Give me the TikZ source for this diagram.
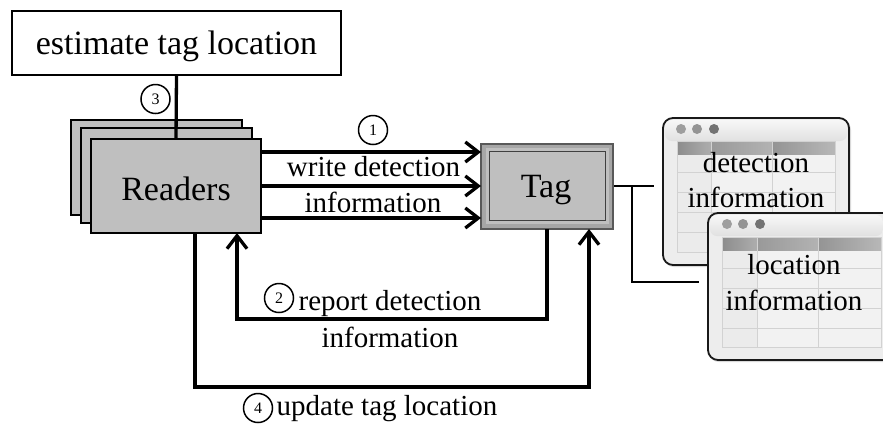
\documentclass[tikz,border=0pt]{standalone}
\usepackage{fontspec}
\setmainfont{Liberation Serif}
\usetikzlibrary{arrows.meta}
\definecolor{boxgray}{HTML}{BFBFBF}
\definecolor{winfill}{HTML}{EDEDED}
\definecolor{cellline}{HTML}{D2D2D2}
\newcommand{\fs}[1]{\fontsize{#1}{#1}\selectfont}
\tikzset{
  x=1pt,y=-1pt,
  graybox/.style={draw=black,line width=1.8pt,fill=boxgray,inner sep=0pt,outer sep=0pt},
  flow/.style={line width=3.3pt,draw=black},
  flowarrow/.style={flow,-{Straight Barb[length=13pt,width=20pt,line width=3.3pt]}},
  thin link/.style={line width=1.4pt,draw=black},
  num/.style={circle,draw=black,line width=1.5pt,fill=white,minimum size=29pt,inner sep=0pt,font=\fs{16}},
  lab/.style={font=\fs{29},inner sep=0pt,align=center},
  big/.style={font=\fs{34},inner sep=0pt},
  window/.style={draw=black!90,line width=1.8pt,rounded corners=10pt,fill=winfill},
  cell/.style={draw=cellline,line width=1pt},
  dot/.style={circle,minimum size=10pt,inner sep=0pt},
}
\begin{document}
\begin{tikzpicture}
\useasboundingbox (0,0) rectangle (883,424);
\fill[white] (0,0) rectangle (883,424);

% links from the tag to the two tables
\coordinate (tagout) at (613,186);
\coordinate (w1end) at (654,186);
\coordinate (branch) at (632,186);
\coordinate (bend) at (632,282);
\coordinate (w2end) at (699,282);
\draw[thin link] (tagout) -- (w1end);
\draw[thin link] (branch) -- (bend) -- (w2end);

% window 1
\draw[window,draw=none,fill=black!15] (664,120) rectangle (851,267);
\draw[window] (663,118) rectangle (849,265);
\shade[top color=black!3,bottom color=black!12,rounded corners=7pt] (665,120) rectangle (847,141);
\fill[black!5] (677,154) rectangle (835,252);
\fill[black!8] (677,154) rectangle (711,252);
\shade[left color=black!45,right color=black!32] (677,141) rectangle (711,154);
\shade[left color=black!40,right color=black!30] (711,141) rectangle (772,154);
\shade[left color=black!42,right color=black!28] (772,141) rectangle (835,154);
\draw[cell] (677,141) rectangle (835,252);
\draw[cell] (711,141) -- (711,252) (772,141) -- (772,252);
\draw[cell] (677,172) -- (835,172) (677,192) -- (835,192) (677,212) -- (835,212) (677,232) -- (835,232);
\node[dot,fill=black!38] (w1a) at (681,129) {};
\node[dot,fill=black!42] (w1b) at (697,129) {};
\node[dot,fill=black!55] (w1c) at (714,129) {};
\node[lab] (detect) at (756,163) {detection};
\node[lab] (detinfo) at (756,197.5) {information};

% window 2
\draw[window,draw=none,fill=black!15] (709,215) rectangle (900,362);
\draw[window] (708,213) rectangle (895,360);
\shade[top color=black!3,bottom color=black!12,rounded corners=7pt] (710,215) rectangle (883,236);
\fill[black!5] (722,250) rectangle (881,347);
\fill[black!8] (722,250) rectangle (757,347);
\shade[left color=black!45,right color=black!32] (722,237) rectangle (757,250);
\shade[left color=black!40,right color=black!30] (757,237) rectangle (818,250);
\shade[left color=black!42,right color=black!28] (818,237) rectangle (881,250);
\draw[cell] (722,237) rectangle (881,347);
\draw[cell] (757,237) -- (757,347) (818,237) -- (818,347);
\draw[cell] (722,268) -- (881,268) (722,288) -- (881,288) (722,308) -- (881,308) (722,328) -- (881,328);
\node[dot,fill=black!38] (w2a) at (727,224) {};
\node[dot,fill=black!42] (w2b) at (743,224) {};
\node[dot,fill=black!55] (w2c) at (760,224) {};
\node[lab] (locat) at (794,265) {location};
\node[lab] (locinfo) at (794,300) {information};

% estimate box
\node[draw=black,line width=1.8pt,minimum width=329pt,minimum height=64pt,inner sep=0pt,outer sep=0pt] (est) at (176.5,43) {};
\node[big] (esttext) at (176.5,46) {estimate tag location};

% readers stack
\node[graybox,minimum width=171pt,minimum height=95pt] (r3) at (156.5,167.5) {};
\node[graybox,minimum width=171pt,minimum height=95pt] (r2) at (166.5,175.5) {};
\node[graybox,minimum width=170pt,minimum height=94pt] (readers) at (176,186) {};
\draw[flow] (est.south) -- (readers.north);
\node[big] (readtext) at (176,189) {Readers};

% tag
\node[draw=black!65,line width=1.6pt,fill=black!35,minimum width=132pt,minimum height=85pt,inner sep=0pt,outer sep=0pt] (tag) at (547,186.5) {};
\node[draw=black!25,line width=1.6pt,fill=boxgray,minimum width=122pt,minimum height=75pt,inner sep=0pt] (tagmid) at (547.5,186) {};
\node[draw=black!75,line width=1.6pt,fill=boxgray,minimum width=116pt,minimum height=69pt,inner sep=0pt] (taginner) at (547.5,186) {};
\node[big] (tagtext) at (546,190) {Tag};

% write arrows
\draw[flowarrow] (readers.east |- 0,152) -- (tag.west |- 0,152);
\draw[flowarrow] (readers.east |- 0,186) -- (tag.west |- 0,186);
\draw[flowarrow] (readers.east |- 0,218) -- (tag.west |- 0,218);

% report arrow
\coordinate (rep1) at (547,319);
\coordinate (rep2) at (237,319);
\draw[flowarrow] (tag.south -| rep1) -- (rep1) -- (rep2) -- (readers.south -| rep2);

% update arrow
\coordinate (upd1) at (195,387);
\coordinate (upd2) at (589,387);
\draw[flowarrow] (readers.south -| upd1) -- (upd1) -- (upd2) -- (tag.south -| upd2);

% labels
\node[lab] (wlab) at (373.5,167) {write detection};
\node[lab] (ilab) at (373,202) {information};
\node[lab] (rlab) at (390,304) {report detection};
\node[lab] (rilab) at (390,337) {information};
\node[lab] (ulab) at (387,409) {update tag location};
\node[num] (n1) at (373,130) {1};
\node[num] (n2) at (279,298) {2};
\node[num] (n3) at (155.5,99) {3};
\node[num] (n4) at (258,408) {4};
\end{tikzpicture}
\end{document}
